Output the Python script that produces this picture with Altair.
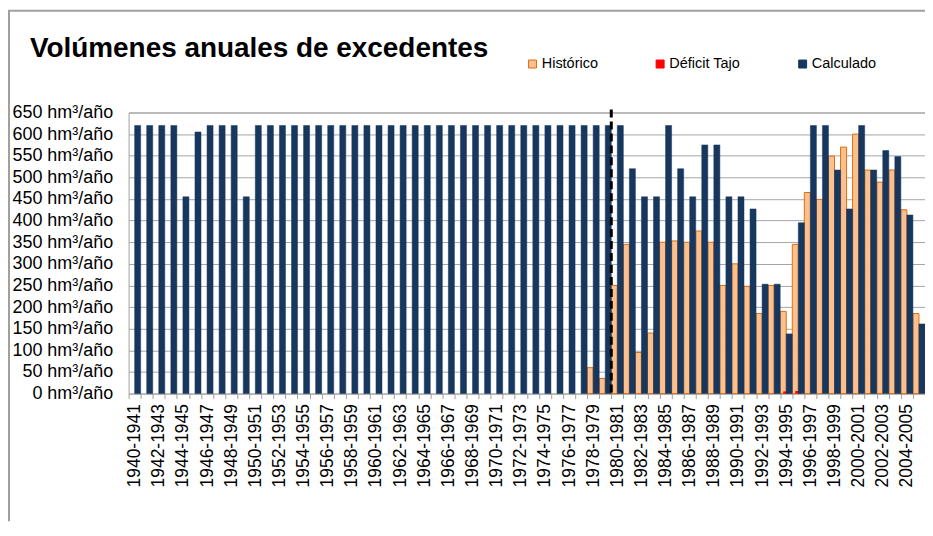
import altair as alt
import pandas as pd

FONT = "Liberation Sans"

titulo = "Volúmenes anuales de excedentes"
series = ["Histórico", "Déficit Tajo", "Calculado"]
rellenos = ["#FAC090", "#FF0000", "#17375E"]
bordes = ["#E46C0A", "#FF0000", "#17375E"]

categorias = [f"{a}-{a + 1}" for a in range(1940, 2006)]

calculado = [
    620, 620, 620, 620, 455, 605, 620, 620, 620, 455,
    620, 620, 620, 620, 620, 620, 620, 620, 620, 620,
    620, 620, 620, 620, 620, 620, 620, 620, 620, 620,
    620, 620, 620, 620, 620, 620, 620, 620, 620, 620,
    620, 520, 455, 455, 620, 520, 455, 575, 575, 455,
    455, 427, 253, 253, 138, 395, 620, 620, 517, 427,
    620, 517, 562, 548, 413, 161,
]

historico_desde = "1978-1979"
historico = [
    60, 35,
    250, 345, 95, 140, 350, 353, 350, 376, 350, 250,
    300, 248, 185, 250, 190, 345, 465, 449, 549, 570,
    600, 517, 489, 517, 425, 185,
]

deficit_periodos = ["1994-1995", "1995-1996"]
deficit = [5, 6]

linea_periodo = "1980-1981"

i0 = categorias.index(historico_desde)
df_calc = pd.DataFrame({"periodo": categorias, "valor": calculado, "serie": "Calculado"})
df_hist = pd.DataFrame({"periodo": categorias[i0:i0 + len(historico)], "valor": historico, "serie": "Histórico"})
df_def = pd.DataFrame({"periodo": deficit_periodos, "valor": deficit, "serie": "Déficit Tajo"})

W, H = 799, 282

x_scale = alt.Scale(domain=categorias, paddingInner=0, paddingOuter=0)
x_axis = alt.Axis(
    labelAngle=270, labelAlign="right", labelBaseline="middle",
    labelFontSize=17.5, labelFont=FONT, labelColor="black", labelPadding=5,
    labelOverlap=False, labelBound=False,
    labelExpr="toNumber(substring(datum.value, 0, 4)) % 2 == 0 ? datum.value : ''",
    tickBand="extent", tickSize=5, tickColor="#a0a0a0", domain=False, grid=False,
)


def X(**kw):
    return alt.X("periodo:N", scale=x_scale, axis=x_axis, title=None, **kw)


y_enc = alt.Y(
    "valor:Q",
    scale=alt.Scale(domain=[0, 650], nice=False),
    axis=alt.Axis(
        values=list(range(0, 651, 50)),
        labelExpr="datum.value + ' hm³/año'",
        labelFontSize=18, labelFont=FONT, labelColor="black", labelPadding=16,
        ticks=False, tickSize=0, domain=False,
        grid=True, gridColor="#a6a6a6", gridWidth=1,
    ),
    title=None,
)

leyenda = alt.Legend(
    title=None, orient="none", legendX=398, legendY=-56, direction="horizontal",
    columns=3, columnPadding=55, symbolType="square", symbolSize=64,
    symbolStrokeWidth=1, labelFontSize=14.5, labelFont=FONT, labelColor="black",
    labelOffset=2, padding=0,
)
color_enc = alt.Color("serie:N", scale=alt.Scale(domain=series, range=rellenos), legend=leyenda)
stroke_enc = alt.Stroke("serie:N", scale=alt.Scale(domain=series, range=bordes), legend=leyenda)
xoff = alt.XOffset("serie:N", scale=alt.Scale(domain=["Histórico", "Calculado"], paddingInner=0, paddingOuter=0))

hist = alt.Chart(df_hist).mark_bar(strokeWidth=1).encode(
    x=X(), xOffset=xoff, y=y_enc, color=color_enc, stroke=stroke_enc
)
defi = alt.Chart(df_def).mark_bar(width=alt.RelativeBandSize(0.5), strokeWidth=0).encode(
    x=X(), y=y_enc, color=color_enc, stroke=stroke_enc
)
calc = alt.Chart(df_calc).mark_bar(strokeWidth=0.5).encode(
    x=X(), xOffset=xoff, y=y_enc, color=color_enc, stroke=stroke_enc
)

linea = alt.Chart(pd.DataFrame({"periodo": [linea_periodo]})).mark_rule(
    color="black", strokeWidth=3, strokeDash=[8, 4]
).encode(x=X(bandPosition=0), y=alt.value(-3), y2=alt.value(H))

tit = alt.Chart(pd.DataFrame({"t": [titulo]})).mark_text(
    align="left", baseline="alphabetic", fontSize=28, fontWeight="bold", font=FONT, color="black"
).encode(x=alt.value(-99), y=alt.value(-56), text="t:N")

marco_izq = alt.Chart(pd.DataFrame({"a": [0]})).mark_rule(color="#a0a0a0", strokeWidth=2).encode(
    x=alt.value(-120), y=alt.value(-102), y2=alt.value(410)
)
marco_sup = alt.Chart(pd.DataFrame({"a": [0]})).mark_rule(color="#a0a0a0", strokeWidth=2).encode(
    x=alt.value(-121), x2=alt.value(W + 10), y=alt.value(-102)
)

chart = alt.layer(hist, defi, calc, linea, tit, marco_izq, marco_sup).properties(
    width=W, height=H,
    autosize=alt.AutoSizeParams(type="none"),
    padding={"left": 121, "top": 104, "right": 0, "bottom": 128},
    background="white",
).configure_view(stroke="#a0a0a0", strokeWidth=1)

chart.save("out.html", embed_options={"renderer": "svg", "actions": False})
